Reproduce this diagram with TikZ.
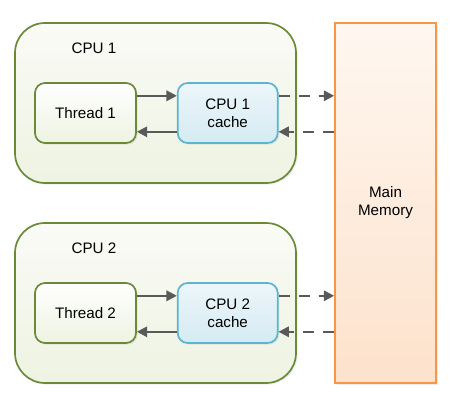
\documentclass[tikz,border=0pt]{standalone}
\usepackage{fontspec}
\setmainfont{Liberation Sans}
\usetikzlibrary{positioning,arrows.meta,shadows}
\definecolor{cpuline}{RGB}{107,138,56}
\definecolor{cpufilltop}{RGB}{250,251,246}
\definecolor{cpufillbot}{RGB}{238,243,226}
\definecolor{cacheline}{RGB}{91,181,208}
\definecolor{cachetop}{RGB}{236,246,250}
\definecolor{cachebot}{RGB}{213,235,243}
\definecolor{memline}{RGB}{247,150,70}
\definecolor{memtop}{RGB}{254,247,240}
\definecolor{membot}{RGB}{253,226,204}
\definecolor{arrowgray}{RGB}{89,89,89}
\tikzset{
  soft shadow/.style={drop shadow={opacity=0.15, shadow xshift=0.04cm, shadow yshift=-0.04cm}},
  cpubox/.style={draw=cpuline, line width=1.2pt, rounded corners=0.75cm, top color=cpufilltop, bottom color=cpufillbot,
    minimum width=7.025cm, minimum height=4cm, soft shadow},
  threadbox/.style={draw=cpuline, line width=1.2pt, rounded corners=0.25cm, top color=white, bottom color=cpufillbot,
    minimum width=2.525cm, minimum height=1.5cm, align=center, soft shadow},
  cachebox/.style={draw=cacheline, line width=1.2pt, rounded corners=0.25cm, top color=cachetop, bottom color=cachebot,
    minimum width=2.5cm, minimum height=1.5cm, align=center, soft shadow},
  membox/.style={draw=memline, line width=1.2pt, top color=memtop, bottom color=membot,
    minimum width=2.525cm, minimum height=9cm, align=center, soft shadow},
  link/.style={draw=arrowgray, line width=1.5pt, -{Triangle[length=2.6mm,width=2.6mm]}},
  memlink/.style={link, dash pattern=on 2.8mm off 2.2mm}}

\begin{document}
\begin{tikzpicture}[font=\fontsize{10.8}{12.8}\selectfont]
        \useasboundingbox (0,0) rectangle (11.85,-10);

        \node[membox](mem) at (9.6375,-5.075) {Main\\Memory};

        \foreach \i/\y in {1/-2.575, 2/-7.575} {
          \node[cpubox](cpu\i) at (3.8875,\y) {};
          \node(lbl\i) at (2.35,\y+1.375) {CPU \i};
          \node[threadbox, anchor=center](t\i) at (2.1375,\y-0.25) {Thread \i};
          \node[cachebox, right=1cm of t\i](c\i) {CPU \i\\cache};

          \draw[link] ([yshift=0.43cm]t\i.east) -- ([yshift=0.43cm]c\i.west);
          \draw[link] ([yshift=-0.47cm]c\i.west) -- ([yshift=-0.47cm]t\i.east);
          \draw[memlink] ([yshift=0.43cm]c\i.east) -- ([yshift=0.43cm]c\i.east -| mem.west);
          \draw[memlink] ([yshift=-0.47cm]c\i.east -| mem.west) -- ([yshift=-0.47cm]c\i.east);
        }
      \end{tikzpicture}
\end{document}
